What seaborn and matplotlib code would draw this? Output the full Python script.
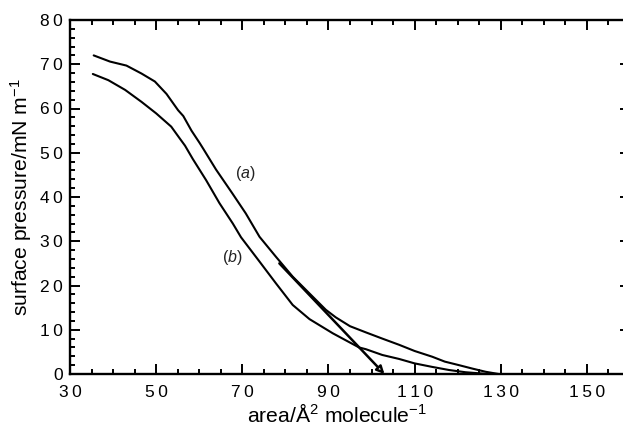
import numpy as np
import pandas as pd
import matplotlib
matplotlib.use("Agg")
import matplotlib.pyplot as plt
from matplotlib.ticker import MultipleLocator, FuncFormatter
import seaborn as sns

# ---- data ----
area_a = [35.5, 39.3, 43.1, 46.6, 49.7, 52.4, 55.1, 56.3, 58.2, 60.1, 61.0, 63.9,
          67.7, 70.8, 74.0, 77.8, 81.7, 85.6, 89.4, 91.7, 95.0, 98.7, 102.5, 106.4,
          110.0, 114.1, 117.0, 120.3, 123.5, 126.5, 129.5]
pressure_a = [72.0, 70.6, 69.7, 67.9, 66.1, 63.3, 59.6, 58.3, 55.0, 52.2, 50.8, 46.2,
              40.8, 36.3, 31.0, 26.5, 22.0, 18.2, 14.5, 12.8, 10.8, 9.4, 8.0, 6.6,
              5.2, 3.9, 2.8, 2.0, 1.2, 0.5, 0.0]

area_b = [35.3, 38.9, 42.8, 46.6, 50.0, 53.5, 55.5, 56.7, 58.5, 61.6, 64.7, 67.8,
          69.7, 74.0, 77.8, 81.7, 85.6, 91.0, 97.1, 98.7, 102.5, 106.4, 110.0,
          114.1, 118.0, 121.8, 127.0]
pressure_b = [67.8, 66.4, 64.2, 61.5, 58.9, 55.9, 53.2, 51.6, 48.6, 43.8, 38.6, 34.0,
              30.9, 25.4, 20.5, 15.6, 12.4, 9.2, 6.0, 5.6, 4.3, 3.4, 2.4,
              1.6, 0.9, 0.4, 0.0]

tangent_area = [78.6, 103.0]
tangent_pressure = [25.0, 0.0]

labels = ["a", "b"]
label_area = [70.6, 67.6]
label_pressure = [45.4, 26.4]

xticks = [30, 50, 70, 90, 110, 130, 150]
yticks = [0, 10, 20, 30, 40, 50, 60, 70, 80]

# ---- styling ----
sns.set_theme(style="ticks")
plt.rcParams["font.family"] = ["Liberation Sans", "DejaVu Sans"]
plt.rcParams["mathtext.fontset"] = "custom"
plt.rcParams["mathtext.rm"] = "Liberation Sans"
plt.rcParams["mathtext.it"] = "Liberation Sans:italic"
plt.rcParams["mathtext.bf"] = "Liberation Sans:bold"

fig = plt.figure(figsize=(6.23, 4.28), dpi=100)
ax = fig.add_axes([70 / 623, 54 / 428, 560 / 623, 354 / 428])

df = pd.concat([
    pd.DataFrame({"area": area_a, "pressure": pressure_a, "curve": "a"}),
    pd.DataFrame({"area": area_b, "pressure": pressure_b, "curve": "b"}),
])
sns.lineplot(data=df, x="area", y="pressure", hue="curve", units="curve",
             estimator=None, sort=False, palette=["black", "black"],
             linewidth=1.5, legend=False, ax=ax)

ax.annotate("", xy=(tangent_area[1], tangent_pressure[1]),
            xytext=(tangent_area[0], tangent_pressure[0]),
            arrowprops=dict(arrowstyle="-|>", color="black", lw=1.8,
                            fc="white", mutation_scale=11, shrinkA=0, shrinkB=0))

for lab, lx, ly in zip(labels, label_area, label_pressure):
    ax.text(lx, ly, "($\\mathit{" + lab + "}$)", fontsize=11.5, ha="center",
            va="center", color="#222222")

ax.set_xlim(30, 160)
ax.set_ylim(0, 80)
ax.set_xticks(xticks)
ax.set_yticks(yticks)
ax.xaxis.set_minor_locator(MultipleLocator(5))
ax.yaxis.set_minor_locator(MultipleLocator(2))

spaced = FuncFormatter(lambda v, p: "\u2009".join(str(int(round(v)))))
ax.xaxis.set_major_formatter(spaced)
ax.yaxis.set_major_formatter(spaced)

for s in ["left", "bottom", "top", "right"]:
    ax.spines[s].set_linewidth(1.7)
    ax.spines[s].set_color("black")

ax.tick_params(which="both", direction="in", top=True, right=True,
               color="black", width=1.4)
ax.tick_params(which="major", length=7.5)
ax.tick_params(which="minor", length=3.6)
ax.tick_params(axis="x", which="major", pad=8, labelsize=12.5, labelcolor="black")
ax.tick_params(axis="y", which="major", pad=5, labelsize=12.5, labelcolor="black")

ax.set_xlabel("area/Å$^2$ molecule$^{-1}$", fontsize=15.2, color="black")
ax.set_ylabel("surface pressure/mN m$^{-1}$", fontsize=15.2, color="black")
ax.xaxis.label.set_va("center")
ax.yaxis.label.set_va("center")
ax.xaxis.set_label_coords((337 - 70) / 560, -40 / 354)
ax.yaxis.set_label_coords((21 - 70) / 560, 0.5)

fig.savefig("out.png", dpi=100)
